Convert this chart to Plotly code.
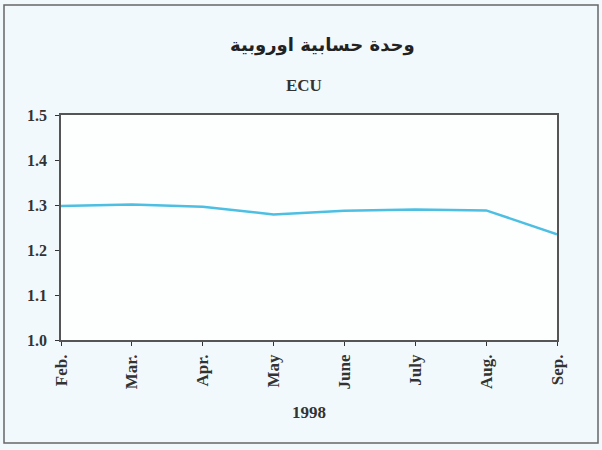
import plotly.graph_objects as go

months = ["Feb.", "Mar.", "Apr.", "May", "June", "July", "Aug.", "Sep."]
ecu = [1.298, 1.301, 1.296, 1.279, 1.287, 1.290, 1.288, 1.235]
y_ticks = [1.0, 1.1, 1.2, 1.3, 1.4, 1.5]
y_tick_labels = ["1.0", "1.1", "1.2", "1.3", "1.4", "1.5"]
title_ar = "وحدة حسابية اوروبية"
subtitle = "ECU"
x_title = "1998"

serif = "Liberation Serif"
ink = "#333333"

fig = go.Figure()
fig.add_trace(go.Scatter(
    x=months, y=ecu, mode="lines",
    line=dict(color="#4cbfe2", width=2.5),
    showlegend=False, hoverinfo="skip",
))

fig.update_layout(
    width=602, height=450,
    margin=dict(l=61, r=45, t=115, b=110),
    paper_bgcolor="#f2f9fc",
    plot_bgcolor="#fdfefe",
    font=dict(family=serif, color=ink, size=16),
    xaxis=dict(
        type="category", range=[0, len(months) - 1],
        tickangle=-90, ticks="outside", ticklen=4, tickcolor=ink,
        ticklabelstandoff=2,
        showline=True, linecolor="#555555", linewidth=1.5, mirror=True,
        showgrid=False, zeroline=False,
        tickfont=dict(family=serif, size=17, color=ink, weight="bold"),
    ),
    yaxis=dict(
        range=[1.0, 1.5], tickvals=y_ticks, ticktext=y_tick_labels,
        ticks="outside", ticklen=4, tickcolor=ink,
        ticklabelstandoff=5,
        showline=True, linecolor="#555555", linewidth=1.5, mirror=True,
        showgrid=False, zeroline=False,
        tickfont=dict(family=serif, size=16, color=ink, weight="bold"),
    ),
    annotations=[
        dict(text="<b>" + title_ar + "</b>", x=0.5265, y=(340 - 45) / 225,
             xref="paper", yref="paper", yanchor="middle",
             showarrow=False, font=dict(family="DejaVu Sans", size=18, color="#222222")),
        dict(text="<b>" + subtitle + "</b>", x=0.49, y=(340 - 85) / 225,
             xref="paper", yref="paper", yanchor="middle",
             showarrow=False, font=dict(family=serif, size=17, color=ink)),
        dict(text="<b>" + x_title + "</b>", x=0.5, y=(340 - 412) / 225,
             xref="paper", yref="paper", yanchor="middle",
             showarrow=False, font=dict(family=serif, size=17, color=ink)),
    ],
    shapes=[
        dict(type="rect", xref="paper", yref="paper",
             x0=(4 - 61) / 496, x1=(598 - 61) / 496,
             y0=(340 - 443) / 225, y1=(340 - 5) / 225,
             line=dict(color="#666666", width=1.5), layer="below"),
    ],
)

fig.write_html(
    "out.html",
    config={"displayModeBar": False},
    post_script="document.body.style.margin='0';document.body.style.overflow='hidden';",
)
